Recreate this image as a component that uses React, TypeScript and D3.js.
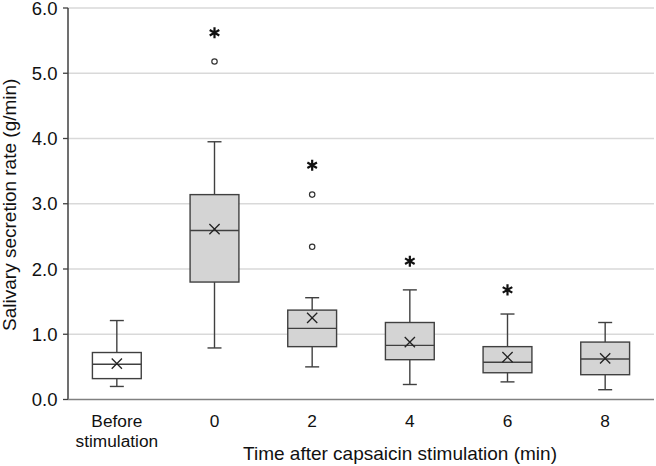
import * as d3 from 'd3';

const categories = ['Before stimulation', '0', '2', '4', '6', '8'];
const whiskerLow = [0.2, 0.79, 0.5, 0.23, 0.27, 0.15];
const q1 = [0.32, 1.8, 0.81, 0.61, 0.41, 0.38];
const median = [0.54, 2.59, 1.09, 0.83, 0.57, 0.62];
const q3 = [0.72, 3.14, 1.37, 1.18, 0.81, 0.88];
const whiskerHigh = [1.21, 3.95, 1.56, 1.68, 1.31, 1.18];
const means = [0.55, 2.61, 1.25, 0.88, 0.65, 0.63];
const outliers: [string, number][] = [['0', 5.18], ['2', 3.14], ['2', 2.34]];
const significant: [string, number][] = [['0', 5.62], ['2', 3.59], ['4', 2.12], ['6', 1.68]];
const yTicks = [0, 1, 2, 3, 4, 5, 6];

const W = 656;
const H = 466;
const left = 68;
const right = 654;
const font = 'Liberation Sans, Arial, sans-serif';
const ink = '#404040';

export default function App() {
  const x = d3.scaleBand<string>().domain(categories).range([left, right]).padding(0);
  const y = d3.scaleLinear().domain([0, 6]).range([399.5, 8]);
  const bw = x.bandwidth() * 0.5;
  const cap = 7;
  const cx = (c: string) => (x(c) ?? 0) + x.bandwidth() / 2;
  const star = d3.symbol().type(d3.symbolAsterisk).size(86)();
  const times = d3.symbol().type(d3.symbolTimes).size(70)();

  return (
    <svg width={W} height={H} style={{ position: 'absolute', left: 0, top: 0 }} fontFamily={font}>
      <rect width={W} height={H} fill="#fff" />
      {yTicks.map((t) => (
        <g key={t}>
          {t > 0 && (
            <line x1={left} x2={right} y1={y(t)} y2={y(t)} stroke="#d9d9d9" strokeWidth={1.3} />
          )}
          <line x1={left - 5} x2={left} y1={y(t)} y2={y(t)} stroke={ink} strokeWidth={1.3} />
          <text x={57.5} y={y(t)} dy="0.36em" textAnchor="end" fontSize={18.5} fill="#111">
            {t.toFixed(1)}
          </text>
        </g>
      ))}
      <line x1={left} x2={left} y1={y(6)} y2={y(0)} stroke={ink} strokeWidth={1.5} />
      <line x1={left} x2={right} y1={y(0)} y2={y(0)} stroke="#808080" strokeWidth={1.5} />

      {categories.map((c, i) => {
        const m = cx(c);
        return (
          <g key={c} stroke={ink} strokeWidth={1.4}>
            <line x1={m} x2={m} y1={y(whiskerHigh[i])} y2={y(q3[i])} />
            <line x1={m} x2={m} y1={y(q1[i])} y2={y(whiskerLow[i])} />
            <line x1={m - cap} x2={m + cap} y1={y(whiskerHigh[i])} y2={y(whiskerHigh[i])} />
            <line x1={m - cap} x2={m + cap} y1={y(whiskerLow[i])} y2={y(whiskerLow[i])} />
            <rect
              x={m - bw / 2}
              y={y(q3[i])}
              width={bw}
              height={y(q1[i]) - y(q3[i])}
              fill={i === 0 ? '#fff' : '#d4d4d4'}
            />
            <line x1={m - bw / 2} x2={m + bw / 2} y1={y(median[i])} y2={y(median[i])} />
            <path d={times ?? ''} transform={`translate(${m},${y(means[i])})`} fill="none" stroke="#222" strokeWidth={1.3} />
          </g>
        );
      })}

      {outliers.map(([c, v], i) => (
        <circle key={i} cx={cx(c)} cy={y(v)} r={2.7} fill="#fff" stroke="#333" strokeWidth={1.2} />
      ))}
      {significant.map(([c, v], i) => (
        <path key={i} d={star ?? ''} transform={`translate(${cx(c)},${y(v)})`} fill="none" stroke="#111" strokeWidth={2.2} />
      ))}

      {categories.map((c) => {
        const lines = c === 'Before stimulation' ? ['Before', 'stimulation'] : [c];
        return (
          <text key={c} x={cx(c)} y={427} textAnchor="middle" fontSize={17.3} fill="#111">
            {lines.map((l, j) => (
              <tspan key={j} x={cx(c)} dy={j === 0 ? 0 : 20}>
                {l}
              </tspan>
            ))}
          </text>
        );
      })}
      <text x={400} y={460} textAnchor="middle" fontSize={19} fill="#111">
        Time after capsaicin stimulation (min)
      </text>
      <text transform={`translate(16,${y(3) + 1}) rotate(-90)`} textAnchor="middle" fontSize={19} fill="#111">
        Salivary secretion rate (g/min)
      </text>
    </svg>
  );
}
